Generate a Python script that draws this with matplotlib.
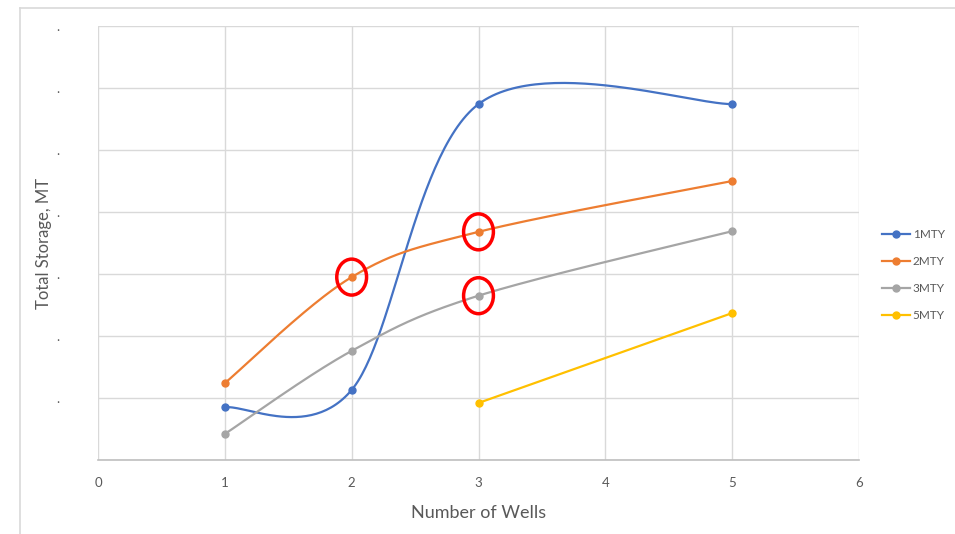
import numpy as np
import matplotlib
matplotlib.use("Agg")
import matplotlib.pyplot as plt
from matplotlib.patches import Ellipse
from matplotlib.lines import Line2D

plt.rcParams['font.family'] = ['Lato', 'DejaVu Sans']

# data (y values in grid units, axis labels on y are not legible)
wells_1 = [1, 2, 3, 5]
mty1 = [0.85, 1.13, 5.74, 5.74]
wells_2 = [1, 2, 3, 5]
mty2 = [1.24, 2.95, 3.68, 4.50]
wells_3 = [1, 2, 3, 5]
mty3 = [0.42, 1.76, 2.65, 3.69]
wells_5 = [3, 5]
mty5 = [0.92, 2.37]
names = ['1MTY', '2MTY', '3MTY', '5MTY']
colors = ['#4472C4', '#ED7D31', '#A5A5A5', '#FFC000']
highlight = [(2, 2.95), (3, 3.68), (3, 2.65)]


def smooth(x, y, n=60):
    # excel-style smoothed line: bezier segments with catmull-rom handles
    x = np.asarray(x, float); y = np.asarray(y, float)
    if len(x) < 3:
        return x, y
    px = np.concatenate([[x[0]], x, [x[-1]]])
    py = np.concatenate([[y[0]], y, [y[-1]]])
    xs, ys = [], []
    t = np.linspace(0, 1, n)
    for i in range(1, len(px) - 2):
        p0 = np.array([px[i], py[i]])
        p3 = np.array([px[i + 1], py[i + 1]])
        c1 = p0 + (np.array([px[i + 1], py[i + 1]]) - np.array([px[i - 1], py[i - 1]])) / 6
        c2 = p3 - (np.array([px[i + 2], py[i + 2]]) - np.array([px[i], py[i]])) / 6
        b = ((1 - t) ** 3)[:, None] * p0 + (3 * (1 - t) ** 2 * t)[:, None] * c1 \
            + (3 * (1 - t) * t ** 2)[:, None] * c2 + (t ** 3)[:, None] * p3
        xs.append(b[:, 0]); ys.append(b[:, 1])
    return np.concatenate(xs), np.concatenate(ys)


fig = plt.figure(figsize=(9.55, 5.34), dpi=100)
ax = fig.add_axes([98 / 955, 1 - 460 / 534, (859 - 98) / 955, (460 - 26) / 534])

series = [(wells_1, mty1), (wells_2, mty2), (wells_3, mty3), (wells_5, mty5)]
handles = []
for (xv, yv), name, c in zip(series, names, colors):
    sx, sy = smooth(xv, yv)
    ax.plot(sx, sy, color=c, lw=1.6, zorder=3)
    ax.plot(xv, yv, 'o', color=c, ms=5, zorder=4)
    handles.append(Line2D([], [], color=c, lw=1.6, marker='o', ms=5, label=name))

for hx, hy in highlight:
    ax.add_patch(Ellipse((hx, hy), 0.235, 0.58, fill=False, ec='#FF0000', lw=2.5, zorder=5))

ax.set_xlim(0, 6)
ax.set_ylim(0, 7)
ax.set_xticks(range(0, 7))
ax.set_yticks(range(0, 8))
# y labels are blurred out in the source, only faint specks remain
ax.set_yticklabels(['', '.', '.', '.', '.', '.', '.', '.'], fontsize=5, color='#c0c0c0')
ax.grid(True, color='#d9d9d9', lw=1)
for s in ['left', 'right', 'top']:
    ax.spines[s].set_visible(False)
ax.spines['bottom'].set_color('#bfbfbf')
ax.spines['bottom'].set_linewidth(1.2)
ax.tick_params(length=0, colors='#595959', labelsize=9.5)
ax.tick_params(axis='x', pad=12)
ax.tick_params(axis='y', pad=28)
ax.set_xlabel('Number of Wells', fontsize=13, color='#595959', labelpad=12)
ax.set_ylabel('Total Storage, MT', fontsize=12, color='#595959')
ax.yaxis.set_label_coords(-0.061, 0.5)

fig.legend(handles=handles, loc='center left', bbox_to_anchor=(882 / 955, 1 - 275 / 534),
           frameon=False, fontsize=8.5, handlelength=2.4, labelspacing=1.37,
           handletextpad=0.2, borderpad=0, borderaxespad=0, labelcolor='#595959')

# outer chart frame
fig.add_artist(Line2D([20 / 955, 1], [1 - 8 / 534, 1 - 8 / 534], color='#d9d9d9', lw=1.2))
fig.add_artist(Line2D([20 / 955, 20 / 955], [0, 1 - 8 / 534], color='#d9d9d9', lw=1.2))

fig.savefig('out.png', dpi=100, facecolor='white')
